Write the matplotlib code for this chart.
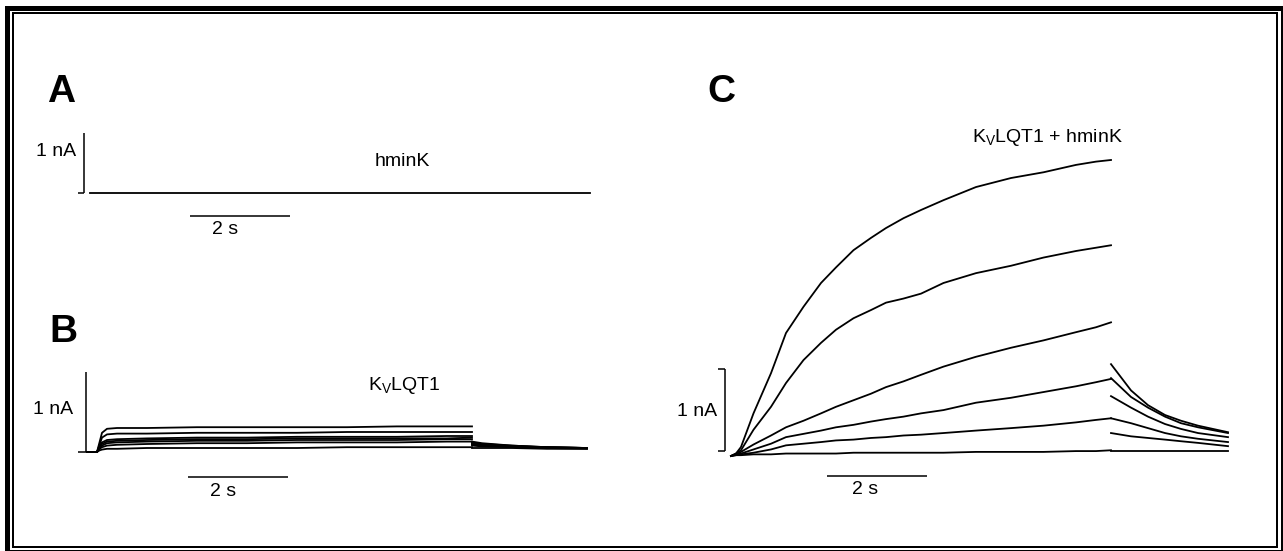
import matplotlib
matplotlib.use('Agg')
import matplotlib.pyplot as plt
from matplotlib.patches import Rectangle

# current traces: time in s, current in nA
SCALE_T = 2.0   # s
SCALE_I = 1.0   # nA

# A: hminK alone, no current
t_a = [-0.14, 0.0, 2.0, 4.0, 6.0, 7.5, 9.86]
i_a = [0.0, 0.0, 0.0, 0.0, 0.0, 0.0, 0.0]

# B: KvLQT1, 7 steps, then tails
t_b = [0.0, 0.05, 0.1, 0.2, 0.4, 1.0, 2.0, 3.0, 4.0, 5.0, 6.0, 7.0, 7.5]
i_b = [
    [0.0, 0.12, 0.24, 0.29, 0.30, 0.30, 0.31, 0.31, 0.31, 0.31, 0.32, 0.32, 0.32],
    [0.0, 0.09, 0.18, 0.22, 0.23, 0.23, 0.24, 0.24, 0.24, 0.25, 0.25, 0.25, 0.25],
    [0.0, 0.07, 0.12, 0.15, 0.16, 0.17, 0.18, 0.18, 0.19, 0.19, 0.19, 0.20, 0.20],
    [0.0, 0.06, 0.10, 0.13, 0.14, 0.15, 0.16, 0.16, 0.17, 0.17, 0.17, 0.17, 0.18],
    [0.0, 0.05, 0.08, 0.11, 0.12, 0.13, 0.14, 0.14, 0.15, 0.15, 0.15, 0.16, 0.16],
    [0.0, 0.04, 0.06, 0.08, 0.09, 0.10, 0.11, 0.11, 0.12, 0.12, 0.12, 0.13, 0.13],
    [0.0, 0.02, 0.03, 0.04, 0.04, 0.05, 0.05, 0.05, 0.05, 0.06, 0.06, 0.06, 0.06],
]
t_b_tail = [7.5, 7.7, 8.3, 9.0, 9.8]
i_b_tail = [
    [0.13, 0.11, 0.08, 0.06, 0.05],
    [0.12, 0.10, 0.08, 0.06, 0.05],
    [0.11, 0.10, 0.07, 0.06, 0.05],
    [0.10, 0.09, 0.07, 0.06, 0.05],
    [0.09, 0.08, 0.07, 0.05, 0.05],
    [0.08, 0.07, 0.06, 0.05, 0.04],
    [0.05, 0.05, 0.05, 0.04, 0.04],
]

# C: KvLQT1 + hminK, 6 steps, then tails
t_c = [0.0, 0.1, 0.35, 0.7, 1.0, 1.35, 1.7, 2.0, 2.35, 2.7, 3.0, 3.35, 3.7,
       4.15, 4.8, 5.5, 6.15, 6.8, 7.2, 7.5]
i_c = [
    [0.03, 0.11, 0.52, 1.01, 1.50, 1.82, 2.11, 2.30, 2.51, 2.66, 2.78, 2.90, 3.00,
     3.12, 3.28, 3.39, 3.46, 3.55, 3.59, 3.61],
    [0.03, 0.07, 0.32, 0.60, 0.89, 1.17, 1.38, 1.54, 1.68, 1.78, 1.87, 1.92, 1.98,
     2.11, 2.23, 2.32, 2.42, 2.50, 2.54, 2.57],
    [0.02, 0.05, 0.14, 0.25, 0.35, 0.43, 0.52, 0.60, 0.68, 0.76, 0.84, 0.91, 0.99,
     1.09, 1.21, 1.32, 1.41, 1.51, 1.57, 1.63],
    [0.02, 0.03, 0.08, 0.15, 0.23, 0.27, 0.31, 0.35, 0.38, 0.42, 0.45, 0.48, 0.52,
     0.56, 0.65, 0.71, 0.78, 0.85, 0.90, 0.94],
    [0.01, 0.02, 0.04, 0.08, 0.13, 0.15, 0.17, 0.19, 0.20, 0.22, 0.23, 0.25, 0.26,
     0.28, 0.31, 0.34, 0.37, 0.41, 0.44, 0.46],
    [0.01, 0.01, 0.02, 0.02, 0.03, 0.03, 0.03, 0.03, 0.04, 0.04, 0.04, 0.04, 0.04,
     0.04, 0.05, 0.05, 0.05, 0.06, 0.06, 0.07],
]
t_c_tail = [7.5, 7.9, 8.24, 8.58, 8.9, 9.24, 9.84]
i_c_tail = [
    [1.12, 0.80, 0.62, 0.50, 0.43, 0.37, 0.29],
    [0.95, 0.72, 0.59, 0.48, 0.40, 0.35, 0.28],
    [0.73, 0.59, 0.48, 0.39, 0.33, 0.28, 0.23],
    [0.46, 0.40, 0.34, 0.28, 0.24, 0.21, 0.17],
    [0.28, 0.24, 0.22, 0.20, 0.18, 0.16, 0.12],
    [0.06, 0.06, 0.06, 0.06, 0.06, 0.06, 0.06],
]

W, H = 1283, 551
plt.rcParams['font.family'] = ['Liberation Sans', 'DejaVu Sans']
plt.rcParams['mathtext.default'] = 'regular'

fig = plt.figure(figsize=(W / 100, H / 100), dpi=100)

# full-figure axes in pixel units for frame and labels
bg = fig.add_axes([0, 0, 1, 1])
bg.set_xlim(0, W)
bg.set_ylim(H, 0)
bg.axis('off')
bg.add_patch(Rectangle((6.5, 7.5), 1282.5 - 6.5, 551.5 - 7.5, fill=False,
                       lw=3.6, ec='black', clip_on=False))
bg.add_patch(Rectangle((13, 13), 1277 - 13, 547 - 13, fill=False,
                       lw=1.44, ec='black', clip_on=False))


def panel_axes(box, x0, y0, px_s, px_na):
    # box in pixels (left, top, right, bottom); x0,y0 = pixel of t=0, I=0
    left, top, right, bottom = box
    ax = fig.add_axes([left / W, 1 - bottom / H, (right - left) / W, (bottom - top) / H])
    ax.set_xlim((left - x0) / px_s, (right - x0) / px_s)
    ax.set_ylim((y0 - bottom) / px_na, (y0 - top) / px_na)
    ax.axis('off')
    return ax


def scale_bars(ax, tv, i0, tick, tb, ib, bracket=False):
    kw = dict(color='black', lw=1.1, solid_capstyle='butt')
    ax.plot([tv, tv], [i0, i0 + SCALE_I], **kw)
    ax.plot([tv - tick, tv], [i0, i0], **kw)
    if bracket:
        ax.plot([tv - tick, tv], [i0 + SCALE_I, i0 + SCALE_I], **kw)
    ax.plot([tb, tb + SCALE_T], [ib, ib], **kw)


trace_kw = dict(color='black', lw=1.3)

# panel A
ax_a = panel_axes((30, 110, 640, 250), 97, 193, 50, 60)
ax_a.plot(t_a, i_a, **trace_kw)
scale_bars(ax_a, -0.26, 0.0, 0.13, 1.86, -0.38)

# panel B
ax_b = panel_axes((30, 350, 640, 510), 97, 452, 50, 80)
for vals, tail in zip(i_b, i_b_tail):
    ax_b.plot([-0.2] + t_b, [0.0] + vals, **trace_kw)
    ax_b.plot(t_b_tail, tail, **trace_kw)
scale_bars(ax_b, -0.22, 0.0, 0.16, 1.82, -0.31)

# panel C
ax_c = panel_axes((660, 130, 1260, 510), 736, 456, 50, 82)
for vals, tail in zip(i_c, i_c_tail):
    ax_c.plot([-0.1] + t_c, [0.0] + vals, **trace_kw)
    ax_c.plot(t_c_tail, tail, **trace_kw)
scale_bars(ax_c, -0.22, 0.06, 0.14, 1.82, -0.24, bracket=True)

# labels
for s, x, y in [('A', 47, 102), ('B', 49, 342), ('C', 707, 102)]:
    bg.text(x, y, s, fontsize=28, fontweight='bold', ha='left', va='baseline')

small = dict(fontsize=14, va='center')
bg.text(76, 151, '1 nA', ha='right', **small)
bg.text(73, 410, '1 nA', ha='right', **small)
bg.text(717, 412, '1 nA', ha='right', **small)
bg.text(225, 230, '2 s', ha='center', **small)
bg.text(223, 492, '2 s', ha='center', **small)
bg.text(865, 490, '2 s', ha='center', **small)
bg.text(402, 161, 'hminK', ha='center', **small)
bg.text(368, 385, r'K$_\mathregular{V}$LQT1', ha='left', **small)
bg.text(1047, 137, r'K$_\mathregular{V}$LQT1 + hminK', ha='center', **small)

fig.savefig('out.png', dpi=100)
